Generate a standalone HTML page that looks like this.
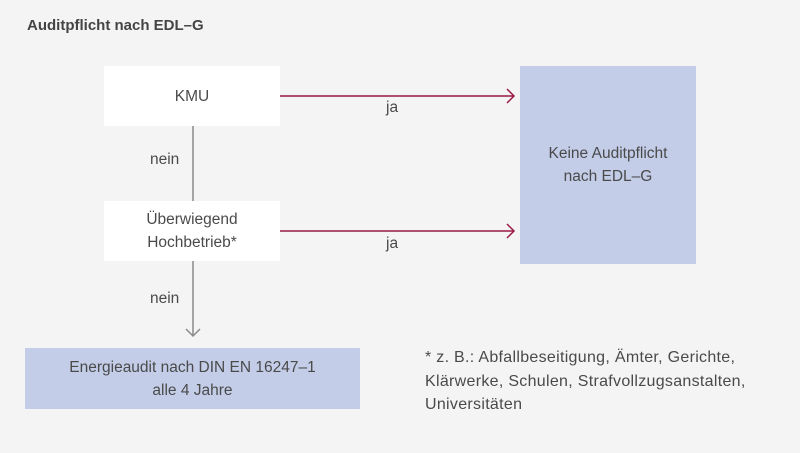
<!DOCTYPE html>
<html><head><meta charset="utf-8"><style>
body{margin:0;width:800px;height:453px;background:#f4f4f4;font-family:"Liberation Sans",sans-serif;color:#4a4a4a;position:relative;overflow:hidden}
.a{position:absolute}
.box{position:absolute;display:flex;align-items:center;justify-content:center;text-align:center;font-size:15.5px;line-height:23px}
.t{position:absolute;font-size:15.5px;white-space:nowrap}
</style></head><body>
<div class="t" style="left:27px;top:17px;font-weight:bold;font-size:15px;color:#444">Auditpflicht nach EDL–G</div>
<div class="box" style="left:104px;top:66px;width:176px;height:60px;background:#fff">KMU</div>
<div class="box" style="left:104px;top:201px;width:176px;height:60px;background:#fff">Überwiegend<br>Hochbetrieb*</div>
<div class="box" style="left:520px;top:66px;width:176px;height:198px;background:#c3cde8">Keine Auditpflicht<br>nach EDL–G</div>
<div class="box" style="left:25px;top:348px;width:335px;height:61px;background:#c3cde8">Energieaudit nach DIN EN 16247–1<br>alle 4 Jahre</div>
<svg class="a" style="left:0;top:0" width="800" height="453">
<g stroke="#9a1a45" stroke-width="1.5" fill="none">
<line x1="280" y1="96" x2="514" y2="96"/><polyline points="507,89 514,96 507,103"/>
<line x1="280" y1="231" x2="514" y2="231"/><polyline points="507,224 514,231 507,238"/>
</g>
<g stroke="#8a8a8a" stroke-width="1.5" fill="none">
<line x1="193" y1="126" x2="193" y2="201"/>
<line x1="193" y1="261" x2="193" y2="336"/><polyline points="186,329 193,336 200,329"/>
</g>
</svg>
<div class="t" style="left:386px;top:99px">ja</div>
<div class="t" style="left:386px;top:235px">ja</div>
<div class="t" style="left:150px;top:151px">nein</div>
<div class="t" style="left:150px;top:290px">nein</div>
<div class="t" style="left:425px;top:346px;line-height:23.5px;font-size:16px;letter-spacing:0.3px">* z. B.: Abfallbeseitigung, Ämter, Gerichte,<br>Klärwerke, Schulen, Strafvollzugsanstalten,<br>Universitäten</div>
</body></html>
